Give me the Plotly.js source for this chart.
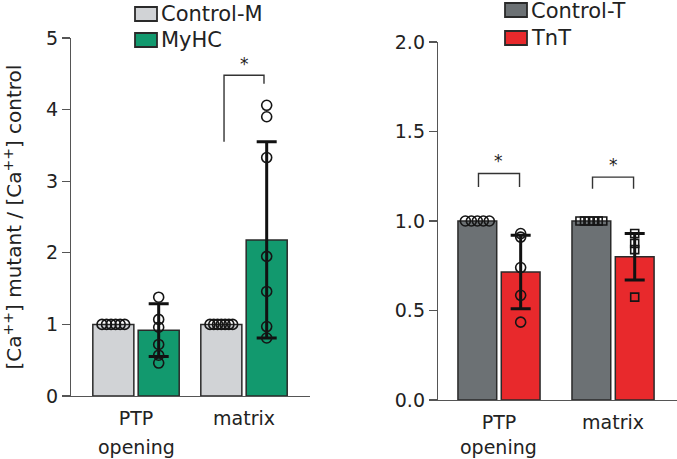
<!DOCTYPE html>
<html>
<head>
<meta charset="utf-8">
<script src="https://cdn.plot.ly/plotly-3.0.1.min.js"></script>
<style>html,body{margin:0;padding:0;background:#fff;}#chart{width:677px;height:459px;}</style>
</head>
<body>
<div id="chart"></div>
<script>
// ---------- data ----------
const categories = ['PTP', 'matrix'];
const categoryLabels = ['PTP', 'matrix'];
const subLabel = 'opening';
const seriesNamesLeft = ['Control-M', 'MyHC'];
const seriesNamesRight = ['Control-T', 'TnT'];

const controlM = [1.0, 1.0];
const myhc = [0.92, 2.18];
const myhcSD = [0.37, 1.37];
const controlT = [1.0, 1.0];
const tnt = [0.715, 0.80];
const tntSD = [0.205, 0.13];

const controlMPtpPts = [1, 1, 1, 1, 1, 1];
const myhcPtpPts = [1.38, 1.07, 0.96, 0.72, 0.57, 0.46];
const controlMMatPts = [1, 1, 1, 1, 1, 1, 1];
const myhcMatPts = [4.06, 3.90, 3.33, 1.95, 1.46, 0.97, 0.81];
const controlTPtpPts = [1, 1, 1, 1, 1];
const tntPtpPts = [0.93, 0.91, 0.74, 0.585, 0.435];
const controlTMatPts = [1, 1, 1, 1, 1, 1];
const tntMatPts = [0.93, 0.875, 0.84, 0.575];

// significance brackets: [category index, top, left leg end, right leg end]
const sigLeft = [[1, 4.48, 3.55, 4.36]];
const sigRight = [[0, 1.265, 1.19, 1.19], [1, 1.245, 1.18, 1.18]];
const sigLabel = '*';

// ---------- styles ----------
const FONT = 'DejaVu Sans, Arial, sans-serif';
const TXT = '#222';
const EDGE = '#2a2a2a';
const colM = '#d1d3d6', colMy = '#12996e', colT = '#6c7174', colTn = '#e8292c';
const W = 677, H = 459;
const px = v => v / W, py = v => 1 - v / H;

const catX = categories.map((c, i) => i);
const traces = [];

function barPair(ctrl, mut, sd, names, cols, xa, ya, bw, off) {
  traces.push({type: 'bar', x: catX, y: ctrl, width: bw, offset: -off - bw,
    marker: {color: cols[0], line: {color: EDGE, width: 1.5}}, xaxis: xa, yaxis: ya,
    showlegend: false, hoverinfo: 'skip', name: names[0]});
  traces.push({type: 'bar', x: catX, y: mut, width: bw, offset: off,
    marker: {color: cols[1], line: {color: EDGE, width: 1.5}}, xaxis: xa, yaxis: ya,
    error_y: {type: 'data', array: sd, visible: true, color: '#111', thickness: 3, width: 10},
    showlegend: false, hoverinfo: 'skip', name: names[1]});
}
function pts(vals, cat, center, spread, symbol, size, xa, ya) {
  const n = vals.length;
  const xs = vals.map((v, i) => cat + center + (n > 1 && spread ? (i - (n - 1) / 2) * (2 * spread / (n - 1)) : 0));
  traces.push({type: 'scatter', mode: 'markers', x: xs, y: vals, xaxis: xa, yaxis: ya,
    marker: {symbol: symbol, size: size, color: '#151515', line: {color: '#151515', width: 1.6}},
    showlegend: false, hoverinfo: 'skip', cliponaxis: false});
}
function brackets(list, half, xa, ya) {
  list.forEach(b => {
    const c = b[0];
    traces.push({type: 'scatter', mode: 'lines', x: [c - half, c - half, c + half, c + half],
      y: [b[2], b[1], b[1], b[3]], xaxis: xa, yaxis: ya,
      line: {color: '#333', width: 1.4}, showlegend: false, hoverinfo: 'skip'});
  });
}

// left panel
barPair(controlM, myhc, myhcSD, seriesNamesLeft, [colM, colMy], 'x', 'y', 0.38, 0.02);
pts(controlMPtpPts, 0, -0.21, 0.105, 'circle-open', 10, 'x', 'y');
pts(myhcPtpPts, 0, 0.21, 0, 'circle-open', 10, 'x', 'y');
pts(controlMMatPts, 1, -0.21, 0.105, 'circle-open', 10, 'x', 'y');
pts(myhcMatPts, 1, 0.21, 0, 'circle-open', 10, 'x', 'y');
brackets(sigLeft, 0.185, 'x', 'y');

// right panel
barPair(controlT, tnt, tntSD, seriesNamesRight, [colT, colTn], 'x2', 'y2', 0.34, 0.02);
pts(controlTPtpPts, 0, -0.19, 0.105, 'circle-open', 10, 'x2', 'y2');
pts(tntPtpPts, 0, 0.19, 0, 'circle-open', 10, 'x2', 'y2');
pts(controlTMatPts, 1, -0.19, 0.1, 'square-open', 8, 'x2', 'y2');
pts(tntMatPts, 1, 0.19, 0, 'square-open', 8, 'x2', 'y2');
brackets(sigRight, 0.18, 'x2', 'y2');

const xCommon = {tickmode: 'array', tickvals: catX, ticktext: categoryLabels, ticks: '',
  showline: true, linecolor: '#555', linewidth: 1.2, zeroline: false, showgrid: false,
  ticklabelstandoff: 5,
  tickfont: {family: FONT, size: 19, color: TXT}, fixedrange: true};
const yCommon = {ticks: 'outside', ticklen: 8, tickwidth: 1.2, tickcolor: '#555',
  showline: true, linecolor: '#555', linewidth: 1.2, zeroline: false, showgrid: false,
  tickfont: {family: FONT, size: 19, color: TXT}, fixedrange: true};

const annotations = [];
// star labels
sigLeft.forEach(b => annotations.push({xref: 'x', yref: 'y', x: b[0], y: b[1] + 0.15, text: sigLabel,
  showarrow: false, font: {family: FONT, size: 17, color: TXT}}));
sigRight.forEach(b => annotations.push({xref: 'x2', yref: 'y2', x: b[0], y: b[1] + 0.07, text: sigLabel,
  showarrow: false, font: {family: FONT, size: 17, color: TXT}}));
// second line of first category label
annotations.push({xref: 'x', yref: 'paper', x: 0, y: py(447), yanchor: 'middle', text: subLabel,
  showarrow: false, font: {family: FONT, size: 19, color: TXT}});
annotations.push({xref: 'x2', yref: 'paper', x: 0, y: py(447), yanchor: 'middle', text: subLabel,
  showarrow: false, font: {family: FONT, size: 19, color: TXT}});

// legends (manual)
const shapes = [];
function legendItem(name, col, sx, sy, tx, ty) {
  shapes.push({type: 'rect', xref: 'paper', yref: 'paper', x0: px(sx), x1: px(sx + 22),
    y0: py(sy - 7), y1: py(sy + 7), fillcolor: col, line: {color: EDGE, width: 1.8}});
  annotations.push({xref: 'paper', yref: 'paper', x: px(tx), y: py(ty), xanchor: 'left', yanchor: 'middle',
    text: name, showarrow: false, font: {family: FONT, size: 21, color: TXT}});
}
legendItem(seriesNamesLeft[0], colM, 135, 14, 159, 14);
legendItem(seriesNamesLeft[1], colMy, 135, 40, 159, 40);
legendItem(seriesNamesRight[0], colT, 505, 10, 529, 11);
legendItem(seriesNamesRight[1], colTn, 505, 38, 529, 38);

const layout = {
  width: W, height: H, autosize: false,
  margin: {l: 0, r: 0, t: 0, b: 0},
  paper_bgcolor: '#fff', plot_bgcolor: 'rgba(0,0,0,0)',
  showlegend: false, barmode: 'overlay',
  xaxis: Object.assign({}, xCommon, {domain: [px(71), px(310)], range: [-0.602, 1.611], anchor: 'y'}),
  yaxis: Object.assign({}, yCommon, {domain: [1 - 396 / H, 1 - 38 / H], range: [0, 5], anchor: 'x',
    tickvals: [0, 1, 2, 3, 4, 5],
    title: {text: '[Ca<sup>++</sup>] mutant / [Ca<sup>++</sup>] control', standoff: 20,
      font: {family: FONT, size: 20, color: TXT}}}),
  xaxis2: Object.assign({}, xCommon, {domain: [px(438), px(677)], range: [-0.535, 1.561], anchor: 'y2'}),
  yaxis2: Object.assign({}, yCommon, {domain: [1 - 400 / H, 1 - 42 / H], range: [0, 2], anchor: 'x2',
    tickvals: [0, 0.5, 1, 1.5, 2], tickformat: '.1f'}),
  annotations: annotations,
  shapes: shapes
};

Plotly.newPlot('chart', traces, layout, {displayModeBar: false, staticPlot: true});
</script>
</body>
</html>
